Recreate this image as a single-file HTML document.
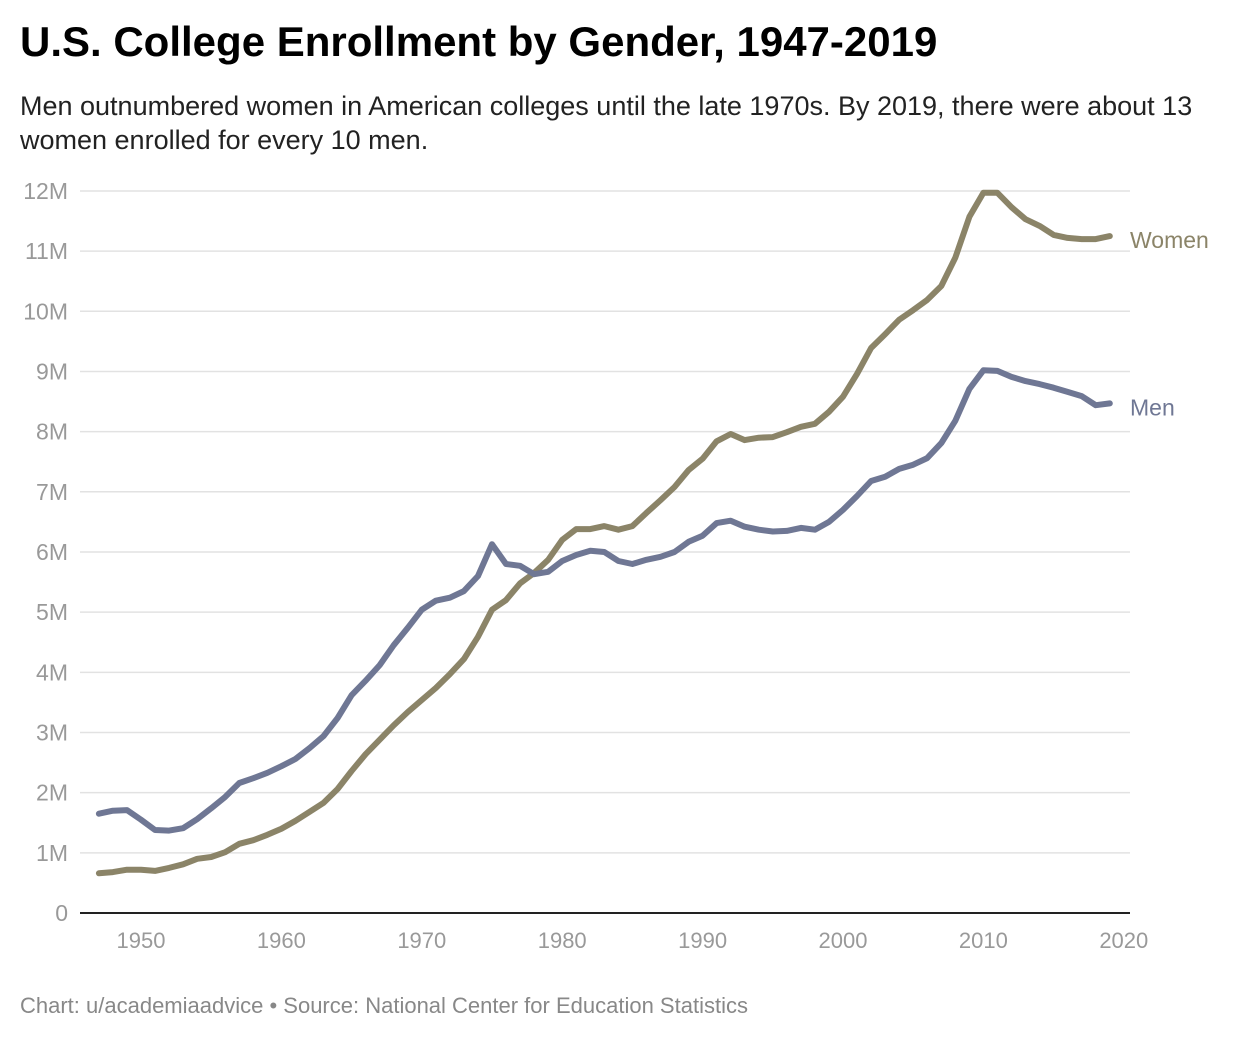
<!DOCTYPE html>
<html><head><meta charset="utf-8">
<style>
body{margin:0;background:#fff;width:1252px;height:1040px;overflow:hidden;font-family:"Liberation Sans",sans-serif;}
h1{position:absolute;left:20px;top:18px;margin:0;font-size:42px;font-weight:bold;color:#000;}
.sub{position:absolute;left:20px;top:89px;font-size:27px;color:#222;line-height:34px;width:1225px;}
.foot{position:absolute;left:20px;top:993px;font-size:22px;color:#888;}
svg{position:absolute;left:0;top:0;}
</style></head><body>
<h1>U.S. College Enrollment by Gender, 1947-2019</h1>
<div class="sub">Men outnumbered women in American colleges until the late 1970s. By 2019, there were about 13 women enrolled for every 10 men.</div>
<div class="foot">Chart: u/academiaadvice • Source: National Center for Education Statistics</div>
<svg id="chart" width="1252" height="1040"></svg>
<script>
const startYear=1947;
const women=[0.66,0.68,0.72,0.72,0.70,0.75,0.81,0.90,0.93,1.01,1.15,1.21,1.30,1.40,1.53,1.68,1.83,2.06,2.36,2.64,2.88,3.12,3.34,3.54,3.74,3.97,4.22,4.59,5.04,5.20,5.48,5.65,5.87,6.20,6.38,6.38,6.43,6.37,6.43,6.65,6.86,7.08,7.36,7.55,7.84,7.96,7.86,7.90,7.91,7.99,8.08,8.13,8.33,8.58,8.96,9.39,9.62,9.86,10.02,10.19,10.42,10.89,11.57,11.97,11.97,11.73,11.53,11.42,11.27,11.22,11.20,11.20,11.25];
const men=[1.65,1.70,1.71,1.55,1.38,1.37,1.41,1.56,1.74,1.93,2.16,2.24,2.33,2.44,2.56,2.74,2.94,3.24,3.62,3.86,4.12,4.45,4.74,5.04,5.19,5.24,5.35,5.60,6.13,5.80,5.77,5.63,5.67,5.85,5.95,6.02,6.00,5.85,5.80,5.87,5.92,6.00,6.17,6.27,6.48,6.52,6.42,6.37,6.34,6.35,6.40,6.37,6.50,6.70,6.93,7.18,7.25,7.38,7.45,7.56,7.81,8.18,8.71,9.02,9.01,8.91,8.84,8.79,8.73,8.66,8.59,8.44,8.47];
const yTicks=[0,1,2,3,4,5,6,7,8,9,10,11,12];
const yTickLabels=["0","1M","2M","3M","4M","5M","6M","7M","8M","9M","10M","11M","12M"];
const xTicks=[1950,1960,1970,1980,1990,2000,2010,2020];
const NS="http://www.w3.org/2000/svg";
const svg=document.getElementById('chart');
const x=yr=>141+(yr-1950)*14.04;
const y=v=>913-v*60.17;
function el(t,a){const e=document.createElementNS(NS,t);for(const k in a)e.setAttribute(k,a[k]);svg.appendChild(e);return e;}
yTicks.forEach((t,i)=>{
 if(t>0){const g=el('line',{x1:80,x2:1130,y1:y(t),y2:y(t),stroke:'#e2e2e2','stroke-width':1.5});
 
 }
 const tx=el('text',{x:68,y:y(t)+8,'text-anchor':'end','font-size':23,fill:'#999','font-family':'Liberation Sans, sans-serif'});
 tx.textContent=yTickLabels[i];
 
 
});
const ax=el('line',{x1:80,x2:1130,y1:913,y2:913,stroke:'#222','stroke-width':2});


xTicks.forEach(t=>{
 const tx=el('text',{x:x(t),y:948,'text-anchor':'middle','font-size':22,fill:'#999','font-family':'Liberation Sans, sans-serif'});
 tx.textContent=t;
 
 
});
function series(arr,color,name,label){
 const n=arr.length;
 const pts=[];for(let i=0;i<n;i++)pts.push(x(startYear+i).toFixed(1)+','+y(arr[i]).toFixed(1));
 const p=el('polyline',{points:pts.join(' '),fill:'none',stroke:color,'stroke-width':6,'stroke-linejoin':'round','stroke-linecap':'round'});
 
 
 const t=el('text',{x:1130,y:y(arr[n-1])+12,'font-size':23,fill:color,'font-family':'Liberation Sans, sans-serif'});
 t.textContent=label;
 
 
}
series(women,'#8b8468','women','Women');
series(men,'#6f7794','men','Men');
</script>
</body></html>
